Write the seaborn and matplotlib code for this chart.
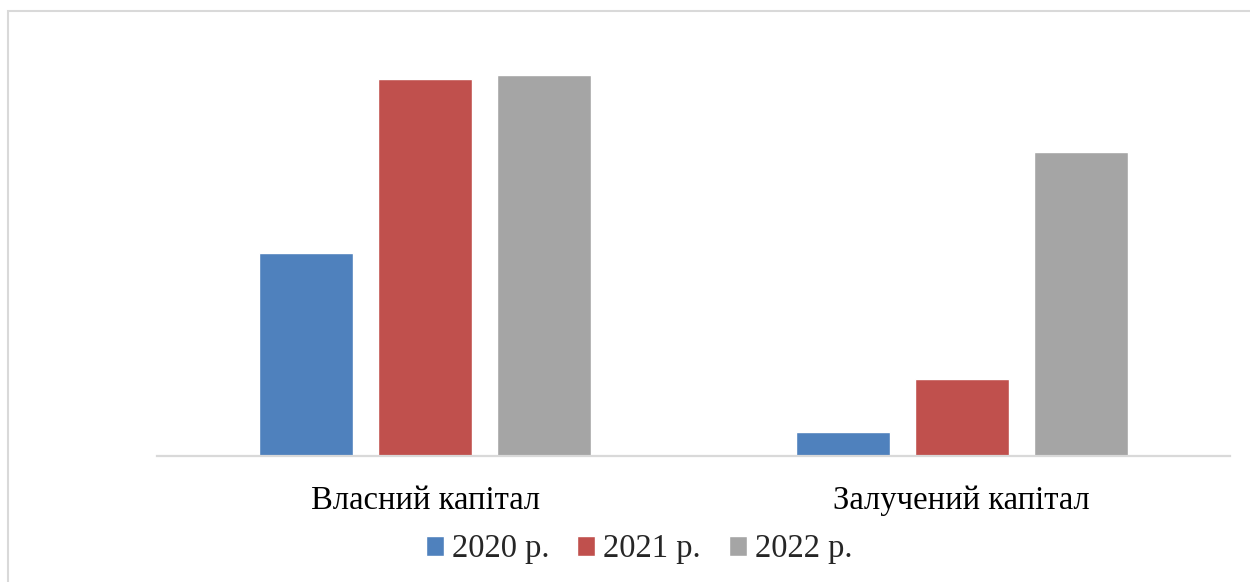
import matplotlib
matplotlib.use("Agg")
import matplotlib.pyplot as plt
from matplotlib.patches import Rectangle
import seaborn as sns
import pandas as pd

categories = ["Власний капітал", "Залучений капітал"]
years = ["2020 р.", "2021 р.", "2022 р."]
values_2020 = [203, 24]
values_2021 = [377, 77]
values_2022 = [381, 304]

colors = ["#4F81BD", "#C0504D", "#A5A5A5"]

rows = []
for year, vals in zip(years, [values_2020, values_2021, values_2022]):
    for cat, v in zip(categories, vals):
        rows.append({"category": cat, "year": year, "value": v})
df = pd.DataFrame(rows)

sns.set_theme(style="white")
plt.rcParams["font.family"] = ["Liberation Serif", "DejaVu Serif"]

W, H = 1250, 582
fig = plt.figure(figsize=(W / 100, H / 100), dpi=100)
ax = fig.add_axes([157 / W, (H - 456) / H, (1230 - 157) / W, 400 / H])

sns.barplot(data=df, x="category", y="value", hue="year", palette=colors,
            width=0.665, gap=0.21, ax=ax, legend=True, saturation=1)

ax.set_ylim(0, 400)
ax.set_xlim(-0.5, 1.5)
ax.set_xlabel("")
ax.set_ylabel("")
ax.set_yticks([])
for side in ["top", "right", "left"]:
    ax.spines[side].set_visible(False)
ax.spines["bottom"].set_color("#D9D9D9")
ax.spines["bottom"].set_linewidth(1.6)
ax.tick_params(axis="x", length=0, labelsize=23.5, pad=21, colors="black")

handles, labels = ax.get_legend_handles_labels()
ax.legend(handles, labels, loc="center", bbox_to_anchor=(639 / W, (H - 549) / H),
          bbox_transform=fig.transFigure, ncol=3, frameon=False, fontsize=23.5,
          handlelength=0.55, handleheight=0.55, handletextpad=0.25,
          columnspacing=0.85, borderpad=0)

# outer chart frame
fig.add_artist(Rectangle((7.5 / W, -0.2), 1.2, (H - 10.5) / H + 0.2,
                         transform=fig.transFigure, fill=False,
                         edgecolor="#D9D9D9", linewidth=1.5))

fig.savefig("out.png", dpi=100, facecolor="white")
